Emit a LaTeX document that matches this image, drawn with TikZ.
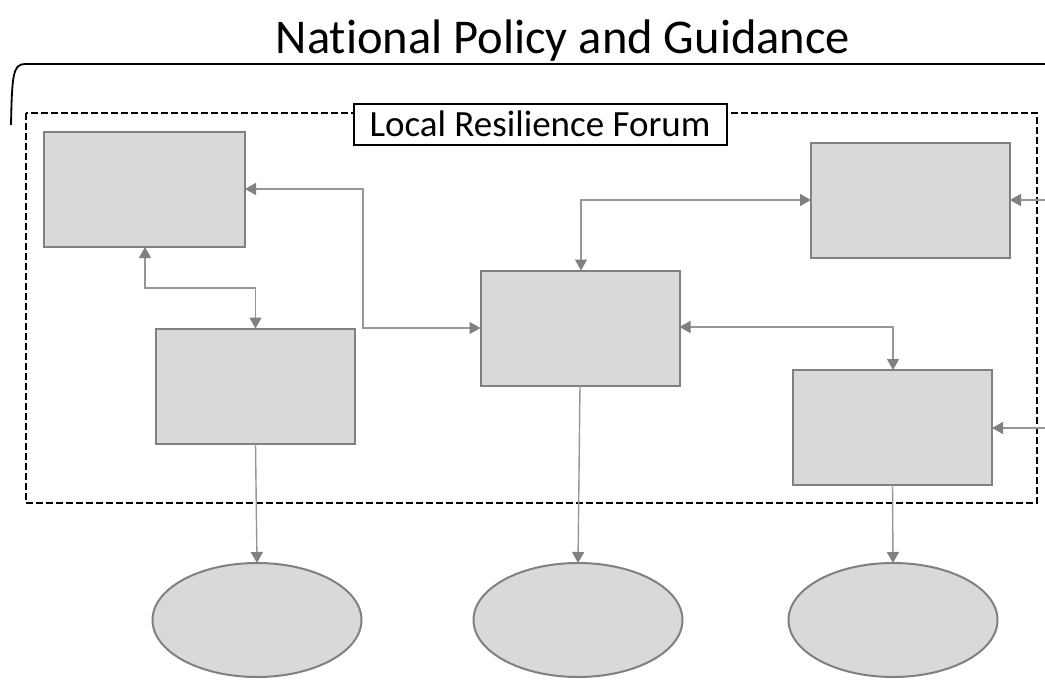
\documentclass[tikz,border=0pt]{standalone}
\usepackage{fontspec}
\setmainfont{Carlito}[Ligatures=CommonOff]
\usetikzlibrary{arrows.meta,shapes.geometric}
\definecolor{boxfill}{RGB}{217,217,217}
\definecolor{boxline}{RGB}{128,128,128}
\definecolor{connline}{RGB}{150,150,150}
\definecolor{headcol}{RGB}{128,128,128}
\tikzset{
  box/.style={draw=boxline, fill=boxfill, line width=2pt, minimum width=199pt, minimum height=115pt, inner sep=0pt, outer sep=0pt},
  oval/.style={ellipse, draw=boxline, fill=boxfill, line width=2pt, minimum width=209pt, minimum height=114pt, inner sep=0pt, outer sep=0pt},
  tip/.tip={Triangle[length=11pt,width=12pt,color=headcol]},
  conn/.style={draw=connline, line width=1.4pt, -tip},
  biconn/.style={draw=connline, line width=1.4pt, tip-tip},
}
\begin{document}
\begin{tikzpicture}[x=1pt,y=-1pt]
\useasboundingbox (0,0) rectangle (1045,680);
% title and brace
\node (title) at (563,41) {\fontsize{48.5}{56}\selectfont National Policy and Guidance};
\draw[line width=1.8pt] (11,125) .. controls (12,75) and (13,64) .. (25,64) -- (1045,64);
% LRF boundary
\draw[line width=2.2pt, dash pattern=on 7pt off 3pt] (26,113) rectangle (1037,503);
\node[draw, fill=white, line width=2pt, minimum width=373pt, minimum height=41pt, inner sep=0pt] (lrf) at (540,124) {\fontsize{37}{42}\selectfont Local Resilience Forum};
% boxes
\node[box, minimum width=201pt] (A) at (144.5,189.5) {};
\node[box] (B) at (255.5,386) {};
\node[box] (C) at (580,328) {};
\node[box] (D) at (910.5,200) {};
\node[box] (E) at (892.5,427.5) {};
% ellipses
\node[oval] (O1) at (257,620) {};
\node[oval] (O2) at (578,620) {};
\node[oval] (O3) at (893,620) {};
% connectors
\coordinate (ab) at (145,288);
\draw[biconn] (A.south -| ab) -- (ab) -| (B.north);
\coordinate (ac) at (363,189);
\draw[biconn] (A.east |- ac) -- (ac) |- (C.west);
\coordinate (cd) at (581,200);
\draw[biconn] (C.north -| cd) -- (cd) -- (D.west);
\coordinate (ce) at (893,327);
\draw[biconn] (C.east |- ce) -- (ce) -- (E.north -| ce);
\draw[conn] (B.south) -- (O1.north);
\draw[conn] (C.south) -- (O2.north);
\draw[conn] (E.south) -- (O3.north);
\coordinate (extD) at (1045,200);
\coordinate (extE) at (1045,428);
\draw[conn] (extD) -- (D.east);
\draw[conn] (extE) -- (E.east |- extE);
\end{tikzpicture}
\end{document}
